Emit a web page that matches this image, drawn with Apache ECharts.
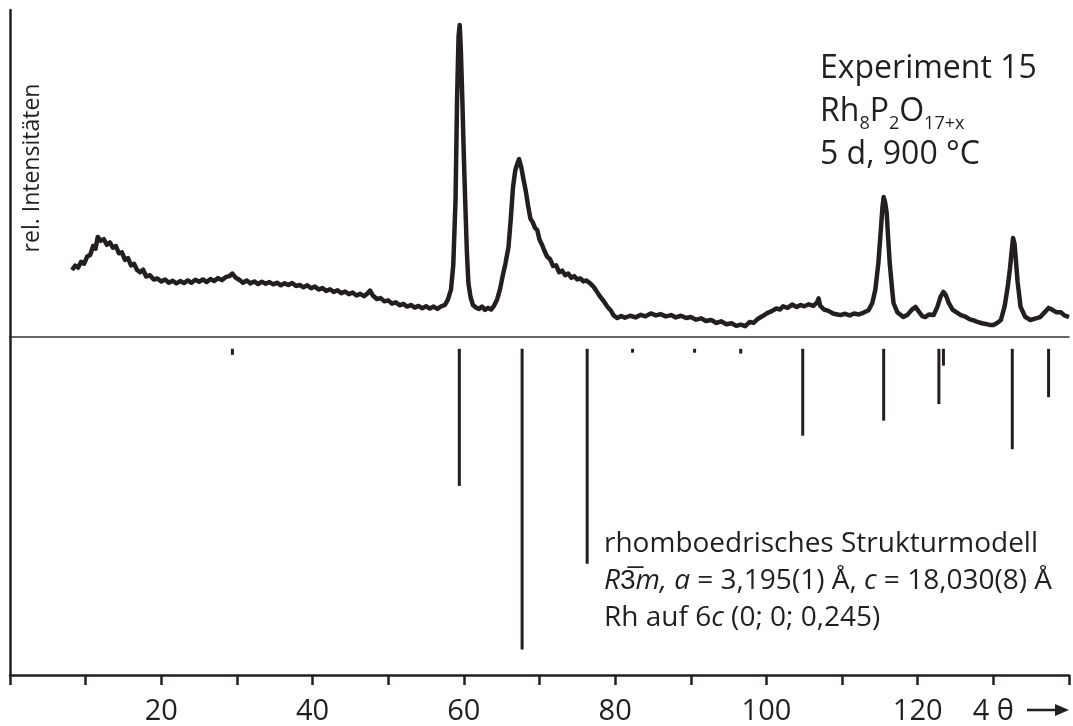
<!DOCTYPE html>
<html>
<head>
<meta charset="utf-8">
<script src="https://cdn.jsdelivr.net/npm/echarts@6/dist/echarts.min.js"></script>
<style>
html,body{margin:0;padding:0;background:#fff;}
#chart{width:1073px;height:726px;}
</style>
</head>
<body>
<div id="chart"></div>
<script>
// Measured powder pattern (4θ, relative intensity)
var patternX = [8.2,8.6,9.0,9.4,9.8,10.2,10.6,11.0,11.3,11.6,12.0,12.4,12.8,13.2,13.6,14.0,14.4,14.8,15.2,15.6,16.0,16.4,16.8,17.2,17.6,18.0,18.5,19.0,19.5,20.0,20.5,21.0,21.5,22.0,22.5,23.0,23.5,24.0,24.5,25.0,25.5,26.0,26.5,27.0,27.5,28.0,28.5,29.0,29.4,29.8,30.3,30.8,31.3,31.8,32.3,32.8,33.3,33.8,34.3,34.8,35.3,35.8,36.3,36.8,37.3,37.8,38.3,38.8,39.3,39.8,40.3,40.8,41.3,41.8,42.3,42.8,43.3,43.8,44.3,44.8,45.3,45.8,46.3,46.8,47.3,47.6,48.0,48.5,49.0,49.5,50.0,50.5,51.0,51.5,52.0,52.5,53.0,53.5,54.0,54.5,55.0,55.5,56.0,56.5,57.0,57.5,57.9,58.3,58.6,58.9,59.1,59.3,59.45,59.6,59.8,60.0,60.2,60.4,60.6,60.9,61.2,61.6,62.0,62.4,62.8,63.2,63.6,64.0,64.4,64.8,65.1,65.5,65.9,66.2,66.5,66.8,67.1,67.3,67.6,67.9,68.2,68.5,68.8,69.1,69.4,69.7,70.0,70.3,70.6,71.0,71.4,71.8,72.2,72.6,73.0,73.4,73.8,74.2,74.6,75.0,75.4,75.8,76.2,76.7,77.2,77.6,78.0,78.5,79.0,79.4,79.8,80.3,80.8,81.3,82.0,82.7,83.4,84.0,84.7,85.4,86.0,86.7,87.4,88.0,88.7,89.4,90.0,90.7,91.4,92.0,92.7,93.4,94.0,94.7,95.4,96.0,96.6,97.2,97.8,98.3,98.9,99.5,100.1,100.7,101.3,101.8,102.2,102.8,103.4,104.0,104.5,105.0,105.6,106.2,106.7,106.9,107.1,107.6,108.2,108.8,109.4,109.8,110.4,111.0,111.6,112.2,112.8,113.5,114.0,114.4,114.8,115.1,115.35,115.5,115.7,115.9,116.1,116.3,116.6,116.8,117.3,118.1,118.7,119.2,119.7,120.2,120.6,121.0,121.5,122.1,122.6,123.0,123.4,123.7,124.1,124.6,125.1,125.7,126.3,126.9,127.5,127.9,128.5,129.0,129.5,130.0,130.5,131.0,131.5,131.9,132.2,132.4,132.6,132.8,132.9,133.2,133.6,134.2,134.9,135.5,136.2,136.8,137.3,137.8,138.3,138.9,139.4,140.0];
var patternY = [20.5,21.8,21.2,23.0,22.4,24.6,25.1,27.9,27.0,30.6,29.4,29.9,28.2,28.9,27.3,27.8,25.6,25.9,23.6,24.1,21.9,22.4,20.5,19.8,20.6,18.5,18.9,17.6,17.9,17.0,17.6,16.6,17.2,16.4,17.1,16.5,17.3,16.6,17.5,16.9,17.6,16.8,17.7,17.1,18.0,17.4,18.3,18.6,19.4,18.2,17.5,16.6,17.3,16.4,17.0,16.2,16.9,16.3,16.8,16.1,16.6,15.8,16.4,15.9,16.5,15.6,15.9,15.2,15.8,14.9,15.4,14.5,15.0,14.1,14.6,13.8,14.3,13.4,13.9,13.1,13.6,12.7,13.2,12.5,13.4,14.2,12.6,11.6,11.9,10.9,11.2,10.2,10.6,9.7,10.1,9.3,9.8,9.0,9.5,8.8,9.4,8.7,9.3,8.6,9.4,9.8,11.5,14.5,22,41.9,72.5,92,95.4,88,72.5,55,40,26,16.5,12,9.8,9.0,8.6,9.3,8.3,8.9,8.4,9.6,11.5,14.8,18.3,22.5,27.5,36,45.9,51,53.2,54.4,51.8,48,44.5,40,36.2,35.1,33.4,32.7,29.8,28.4,26.6,24.6,23.8,21.7,21.9,19.8,20.3,18.9,19.4,18.1,18.6,17.6,17.9,17.0,17.3,16.4,15.2,13.8,12.4,10.9,9.2,8.2,6.6,5.8,6.4,5.9,6.5,6.0,6.8,6.3,7.2,6.6,7.0,6.3,6.7,6.0,6.5,5.8,6.1,5.3,5.7,4.9,5.2,4.3,4.8,3.9,4.2,3.4,3.8,3.3,4.6,4.3,5.6,6.4,7.3,7.9,8.7,8.4,9.4,8.9,9.9,9.2,9.8,9.4,10.0,9.5,10.6,11.8,9.6,8.4,8.0,7.2,6.9,6.7,7.1,6.6,7.2,6.9,7.4,8.2,10.4,14.5,22.6,32,40,42.8,41,37.9,30,22.6,15,10.4,7.6,6.1,6.9,8.3,9.2,7.6,6.4,6.1,6.9,6.7,9.2,12.2,13.8,12.9,10.4,8.4,7.6,6.7,6.2,5.4,5.0,4.6,4.2,4.0,3.7,3.7,4.3,5.2,9.5,15.3,21,25.7,30.3,28.5,25.7,17,9.2,6.2,5.2,5.6,6.1,7.6,8.9,8.3,7.6,7.6,6.6,6.1];

// Calculated reflections of the rhombohedral model (4θ, relative intensity)
var reflX = [29.4,59.4,67.7,76.3,82.3,90.5,96.6,104.8,115.5,122.8,123.4,132.5,137.3];
var reflI = [2.0,45.6,100,71.5,1.3,1.3,1.6,28.9,23.9,18.4,5.6,33.4,16.1];

// Tick labels of the x axis
var tickLabels = {20:'20',40:'40',60:'60',80:'80',100:'100',120:'120',130:'4 θ'};

var INK = '#231f20';
var FONT = "'Open Sans', sans-serif";

var patternData = patternX.map(function(x,i){return [x, patternY[i]];});
var reflData = reflX.map(function(x,i){return [x, reflI[i]];});

var chart = echarts.init(document.getElementById('chart'), null, {renderer:'canvas'});
chart.setOption({
  animation:false,
  backgroundColor:'#ffffff',
  textStyle:{fontFamily:FONT, color:INK},
  title:[{
    left:815, top:42,
    text:'{a|Experiment 15}\n{a|Rh}{b|8}{a|P}{b|2}{a|O}{b|17+x}\n{a|5 d, 900 °C}',
    textStyle:{
      fontWeight:'normal',
      rich:{
        a:{fontFamily:FONT,fontSize:32,fontWeight:'normal',lineHeight:43,color:INK},
        b:{fontFamily:FONT,fontSize:18,fontWeight:'normal',lineHeight:21,verticalAlign:'bottom',color:INK}
      }
    }
  },{
    left:599, top:521,
    text:'{n|rhomboedrisches Strukturmodell}\n{i|R}{n|3\u0305}{i|m, a}{n| = 3,195(1) Å, }{i|c}{n| = 18,030(8) Å}\n{n|Rh auf 6}{i|c}{n| (0; 0; 0,245)}',
    textStyle:{
      fontWeight:'normal',
      rich:{
        n:{fontFamily:FONT,fontSize:28,fontWeight:'normal',lineHeight:37,color:INK},
        i:{fontFamily:FONT,fontSize:28,fontWeight:'normal',lineHeight:37,fontStyle:'italic',color:INK}
      }
    }
  }],
  grid:[
    {left:10,right:4,top:10,height:327},
    {left:10,right:4,top:337,bottom:46}
  ],
  xAxis:[{
    gridIndex:0,type:'value',min:0,max:140,
    axisLine:{show:true,onZero:false,lineStyle:{color:'#333',width:1.5}},
    axisTick:{show:false},axisLabel:{show:false},splitLine:{show:false}
  },{
    gridIndex:1,type:'value',min:0,max:140,interval:10,position:'bottom',
    axisLine:{show:true,onZero:false,lineStyle:{color:INK,width:2.5}},
    axisTick:{show:true,inside:false,length:10,lineStyle:{color:INK,width:2.5}},
    splitLine:{show:false},
    axisLabel:{
      show:true,margin:22,fontSize:29,fontFamily:FONT,color:INK,
      showMinLabel:true,showMaxLabel:true,
      formatter:function(v){return tickLabels[v]||'';}
    }
  }],
  yAxis:[{
    gridIndex:0,type:'value',min:0,max:100,
    axisLine:{show:true,onZero:false,lineStyle:{color:INK,width:2.5}},
    axisTick:{show:false},axisLabel:{show:false},splitLine:{show:false}
  },{
    gridIndex:1,type:'value',inverse:true,min:-3.93,max:108.5,
    axisLine:{show:true,onZero:false,lineStyle:{color:INK,width:2.5}},
    axisTick:{show:false},axisLabel:{show:false},splitLine:{show:false}
  }],
  series:[{
    type:'line',xAxisIndex:0,yAxisIndex:0,data:patternData,
    showSymbol:false,symbol:'none',smooth:false,
    lineStyle:{color:INK,width:4.5,join:'round'}
  },{
    type:'bar',xAxisIndex:1,yAxisIndex:1,data:reflData,
    barWidth:3,itemStyle:{color:INK}
  }],
  graphic:[{
    type:'text',x:32,y:168,rotation:Math.PI/2,
    style:{text:'rel. Intensitäten',font:'23px '+FONT,fill:INK,align:'center',verticalAlign:'middle'}
  },{
    type:'line',shape:{x1:1027,y1:710,x2:1060,y2:710},style:{stroke:INK,lineWidth:2.5}
  },{
    type:'polygon',shape:{points:[[1055,704],[1069,710],[1055,716]]},style:{fill:INK}
  }]
});
</script>
</body>
</html>
